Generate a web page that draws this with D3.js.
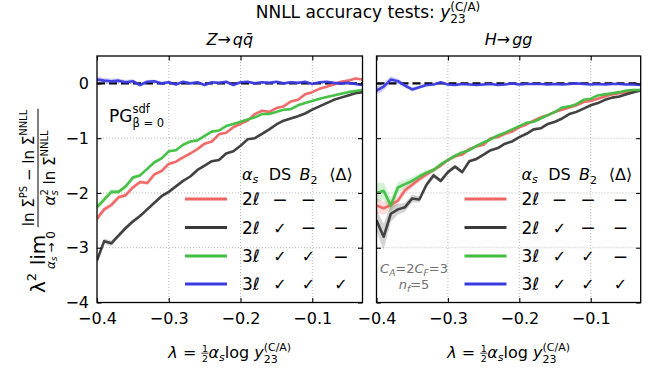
<!DOCTYPE html>
<html><head><meta charset="utf-8">
<script src="https://cdn.jsdelivr.net/npm/d3@7"></script>
<style>body{margin:0;background:#fff}svg{display:block}text{font-family:"DejaVu Sans",sans-serif;white-space:pre;}</style>
</head><body><svg id="c" width="651" height="372" xml:space="preserve"></svg>
<script>
// ---------- data ----------
const lambda = [-0.40,-0.39,-0.38,-0.37,-0.36,-0.35,-0.34,-0.33,-0.32,-0.31,-0.30,-0.29,-0.28,-0.27,-0.26,-0.25,-0.24,-0.23,-0.22,-0.21,-0.20,-0.19,-0.18,-0.17,-0.16,-0.15,-0.14,-0.13,-0.12,-0.11,-0.10,-0.09,-0.08,-0.07,-0.06,-0.05,-0.04,-0.03];
// Z -> q qbar
const zRed   = [-2.47,-2.30,-2.22,-2.08,-2.04,-1.90,-1.80,-1.82,-1.66,-1.60,-1.47,-1.43,-1.35,-1.28,-1.20,-1.10,-1.06,-0.93,-0.90,-0.80,-0.74,-0.68,-0.56,-0.50,-0.52,-0.45,-0.42,-0.33,-0.30,-0.20,-0.16,-0.10,-0.06,-0.02,0.03,0.05,0.09,0.07];
const zBlack = [-3.23,-2.88,-2.92,-2.78,-2.64,-2.52,-2.42,-2.30,-2.18,-2.06,-1.98,-1.88,-1.78,-1.70,-1.58,-1.50,-1.42,-1.40,-1.28,-1.24,-1.14,-1.02,-1.00,-0.92,-0.84,-0.75,-0.68,-0.64,-0.60,-0.55,-0.48,-0.42,-0.36,-0.30,-0.26,-0.22,-0.18,-0.16];
const zGreen = [-2.26,-2.12,-1.98,-1.98,-1.88,-1.72,-1.68,-1.56,-1.44,-1.37,-1.24,-1.22,-1.12,-1.06,-1.04,-0.96,-0.88,-0.86,-0.78,-0.74,-0.70,-0.66,-0.62,-0.56,-0.56,-0.52,-0.48,-0.47,-0.40,-0.36,-0.32,-0.28,-0.25,-0.22,-0.19,-0.16,-0.14,-0.12];
const zBlue  = [0.07,0.05,0.04,0.05,0.02,0.04,-0.03,0.03,0.04,0.00,0.02,-0.02,0.03,0.00,0.02,-0.03,0.02,0.01,0.03,-0.03,0.02,0.03,0.00,0.02,0.01,0.03,0.00,0.02,0.01,0.03,-0.01,0.02,0.03,0.01,0.00,0.01,-0.01,-0.03];
const zErr   = [0.06,0.05,0.05,0.04,0.04,0.04,0.03,0.03,0.03,0.03,0.03,0.02,0.02,0.02,0.02,0.02,0.02,0.02,0.02,0.02,0.02,0.02,0.02,0.02,0.02,0.02,0.02,0.02,0.02,0.02,0.02,0.02,0.02,0.02,0.02,0.02,0.02,0.02];
// H -> g g
const hRed   = [-2.23,-2.28,-2.22,-2.14,-1.95,-1.85,-1.75,-1.66,-1.58,-1.50,-1.40,-1.33,-1.30,-1.20,-1.15,-1.12,-1.00,-0.98,-0.92,-0.88,-0.80,-0.75,-0.68,-0.62,-0.58,-0.52,-0.48,-0.44,-0.40,-0.34,-0.32,-0.28,-0.24,-0.20,-0.18,-0.16,-0.13,-0.12];
const hBlack = [-2.50,-2.80,-2.38,-2.30,-2.26,-2.10,-2.12,-1.85,-1.68,-1.78,-1.62,-1.52,-1.62,-1.42,-1.38,-1.30,-1.22,-1.18,-1.10,-1.06,-0.98,-0.92,-0.84,-0.82,-0.74,-0.70,-0.64,-0.56,-0.52,-0.46,-0.40,-0.36,-0.30,-0.26,-0.24,-0.20,-0.16,-0.13];
const hGreen = [-2.00,-1.96,-2.23,-1.90,-1.84,-1.78,-1.70,-1.63,-1.58,-1.48,-1.40,-1.32,-1.26,-1.22,-1.14,-1.08,-1.02,-0.95,-0.90,-0.84,-0.78,-0.72,-0.70,-0.64,-0.58,-0.52,-0.44,-0.42,-0.38,-0.30,-0.28,-0.22,-0.20,-0.18,-0.16,-0.13,-0.12,-0.12];
const hBlue  = [-0.13,-0.06,0.07,0.04,-0.04,-0.11,-0.07,-0.03,-0.02,0.02,-0.02,-0.03,-0.01,-0.02,-0.03,-0.02,-0.01,-0.03,-0.02,0.00,-0.02,-0.01,-0.01,-0.01,-0.02,-0.01,-0.02,-0.01,0.00,-0.01,-0.02,-0.01,-0.02,-0.01,-0.01,-0.02,-0.02,-0.03];
const hErrRed   = [0.14,0.12,0.10,0.08,0.07,0.06,0.05,0.05,0.04,0.04,0.03,0.03,0.03,0.03,0.02,0.02,0.02,0.02,0.02,0.02,0.02,0.02,0.02,0.02,0.02,0.02,0.02,0.02,0.02,0.02,0.02,0.02,0.02,0.02,0.02,0.02,0.02,0.02];
const hErrBlack = [0.20,0.24,0.15,0.10,0.08,0.07,0.06,0.05,0.05,0.04,0.04,0.03,0.03,0.03,0.03,0.02,0.02,0.02,0.02,0.02,0.02,0.02,0.02,0.02,0.02,0.02,0.02,0.02,0.02,0.02,0.02,0.02,0.02,0.02,0.02,0.02,0.02,0.02];
const hErrGreen = [0.18,0.15,0.14,0.10,0.08,0.07,0.06,0.05,0.04,0.04,0.03,0.03,0.03,0.03,0.02,0.02,0.02,0.02,0.02,0.02,0.02,0.02,0.02,0.02,0.02,0.02,0.02,0.02,0.02,0.02,0.02,0.02,0.02,0.02,0.02,0.02,0.02,0.02];
const hErrBlue  = [0.08,0.07,0.06,0.05,0.04,0.04,0.03,0.03,0.02,0.02,0.02,0.02,0.02,0.02,0.02,0.02,0.02,0.02,0.02,0.02,0.02,0.02,0.02,0.02,0.02,0.02,0.02,0.02,0.02,0.02,0.02,0.02,0.02,0.02,0.02,0.02,0.02,0.02];

const xTicks = [-0.4,-0.3,-0.2,-0.1];
const xTickLabels = ["−0.4","−0.3","−0.2","−0.1"];
const yTicks = [0,-1,-2,-3,-4];
const yTickLabels = ["0","−1","−2","−3","−4"];
const legendAs  = ["2ℓ","2ℓ","3ℓ","3ℓ"];
const legendDS  = ["—","✓","✓","✓"];
const legendB2  = ["—","—","✓","✓"];
const legendDel = ["—","—","—","✓"];
const colors = ["#f06464","#3a3a3a","#40be40","#3a3ae2"];

// ---------- layout helper ----------
function layout(g, parts){
  let x = 0;
  parts.forEach(p=>{
    if (p.gap){ x += p.gap; return; }
    if (p.frac){
      const ng=g.append("g"), dg=g.append("g");
      const nw=layout(ng,p.frac[0]), dw=layout(dg,p.frac[1]);
      const w=Math.max(nw,dw)+2*(p.pad||1);
      ng.attr("transform",`translate(${x+(w-nw)/2},${p.numY})`);
      dg.attr("transform",`translate(${x+(w-dw)/2},${p.denY})`);
      g.append("line").attr("x1",x).attr("x2",x+w).attr("y1",p.barY).attr("y2",p.barY)
        .attr("stroke",p.fill||"#000").attr("stroke-width",p.bw||0.9);
      x+=w; return;
    }
    if (p.under){
      const ug=g.append("g"), bg=g.append("g");
      const uw=layout(ug,p.under), bw=layout(bg,p.below);
      const w=Math.max(uw,bw);
      ug.attr("transform",`translate(${x+(w-uw)/2},0)`);
      bg.attr("transform",`translate(${x+(w-bw)/2},${p.belowY})`);
      x+=w; return;
    }
    if (p.subsup){
      let w=0;
      p.subsup.forEach(q=>{
        const t=g.append("text").attr("x",x).attr("y",q.dy).attr("font-size",q.s).text(q.t);
        if(q.it) t.attr("font-style","italic");
        if(p.fill) t.attr("fill",p.fill);
        w=Math.max(w,t.node().getComputedTextLength());
      });
      x+=w; return;
    }
    const t=g.append("text").attr("x",x).attr("y",p.dy||0).attr("font-size",p.s).text(p.t);
    if(p.it) t.attr("font-style","italic");
    if(p.fill) t.attr("fill",p.fill);
    x+=t.node().getComputedTextLength();
  });
  return x;
}
function mathText(parent, parts, x, y, anchor){
  const g=parent.append("g");
  const inner=g.append("g");
  const w=layout(inner,parts);
  const off = anchor==="middle" ? -w/2 : anchor==="end" ? -w : 0;
  g.attr("transform",`translate(${x+off},${y})`);
  return g;
}

// ---------- chart ----------
const svg=d3.select("#c");
const Y0=56, Y1=302.5;
const panels=[
  {x0:97, x1:362.5, series:[zRed,zBlack,zGreen,zBlue], errs:[zErr,zErr,zErr,zErr], yLabels:true},
  {x0:376.5, x1:640.7, series:[hRed,hBlack,hGreen,hBlue], errs:[hErrRed,hErrBlack,hErrGreen,hErrBlue], yLabels:false}
];

// title
mathText(svg,[{t:"NNLL accuracy tests: ",s:17},{t:"y",s:17,it:true},
  {subsup:[{t:"23",s:12,dy:5},{t:"(C/A)",s:12,dy:-7.5}]}],368,18,"middle");

panels.forEach((P,pi)=>{
  const x=d3.scaleLinear().domain([-0.4,-0.03]).range([P.x0,P.x1]);
  const y=d3.scaleLinear().domain([-4,0.5]).range([Y1,Y0]);
  const g=svg.append("g");
  const cid="clip"+pi;
  svg.append("defs").append("clipPath").attr("id",cid).append("rect")
    .attr("x",P.x0).attr("y",Y0).attr("width",P.x1-P.x0).attr("height",Y1-Y0);
  // grid
  g.append("g").selectAll("line").data(xTicks.slice(1)).join("line")
    .attr("x1",d=>x(d)).attr("x2",d=>x(d)).attr("y1",Y0).attr("y2",Y1)
    .attr("stroke","#b5b5b5").attr("stroke-width",1).attr("stroke-dasharray","1,2");
  g.append("g").selectAll("line").data(yTicks.filter(d=>d!==-4)).join("line")
    .attr("x1",P.x0).attr("x2",P.x1).attr("y1",d=>y(d)).attr("y2",d=>y(d))
    .attr("stroke","#b5b5b5").attr("stroke-width",1).attr("stroke-dasharray","1,2");
  const plot=g.append("g").attr("clip-path",`url(#${cid})`);
  // zero reference
  plot.append("line").attr("x1",P.x0).attr("x2",P.x1).attr("y1",y(0)).attr("y2",y(0))
    .attr("stroke","#000").attr("stroke-width",2.3).attr("stroke-dasharray","8,4");
  // bands
  P.series.forEach((s,i)=>{
    const e=P.errs[i];
    const area=d3.area().x((d,k)=>x(lambda[k])).y0((d,k)=>y(s[k]-e[k])).y1((d,k)=>y(s[k]+e[k]));
    plot.append("path").attr("d",area(s)).attr("fill",colors[i]).attr("opacity",0.22);
  });
  // lines
  P.series.forEach((s,i)=>{
    const line=d3.line().x((d,k)=>x(lambda[k])).y(d=>y(d));
    plot.append("path").attr("d",line(s)).attr("fill","none").attr("stroke",colors[i])
      .attr("stroke-width",2.6).attr("stroke-linejoin","round").attr("opacity",0.95);
  });
  // axes
  const ab=g.append("g").attr("transform",`translate(0,${Y1})`)
    .call(d3.axisBottom(x).tickValues(xTicks).tickSize(-4.5).tickPadding(10)
      .tickFormat((d,i)=>xTickLabels[i]));
  const at=g.append("g").attr("transform",`translate(0,${Y0})`)
    .call(d3.axisTop(x).tickValues(xTicks).tickSize(-4.5).tickFormat(""));
  const al=g.append("g").attr("transform",`translate(${P.x0},0)`)
    .call(d3.axisLeft(y).tickValues(yTicks).tickSize(-4.5).tickPadding(8)
      .tickFormat((d,i)=>P.yLabels?yTickLabels[i]:""));
  const ar=g.append("g").attr("transform",`translate(${P.x1},0)`)
    .call(d3.axisRight(y).tickValues(yTicks).tickSize(-4.5).tickFormat(""));
  [ab,at,al,ar].forEach(a=>{
    a.select(".domain").remove();
    a.selectAll("line").attr("stroke","#000").attr("stroke-width",1.1);
    a.selectAll("text").attr("font-size",16).attr("font-family","DejaVu Sans").attr("fill","#000");
  });
  g.append("rect").attr("x",P.x0).attr("y",Y0).attr("width",P.x1-P.x0).attr("height",Y1-Y0)
    .attr("fill","none").attr("stroke","#000").attr("stroke-width",1.3);

  // panel title
  const cx=(P.x0+P.x1)/2;
  if(pi===0){
    mathText(svg,[{t:"Z",s:16,it:true},{t:"→",s:16},{gap:2},{t:"q",s:16,it:true},{t:"q̄",s:16,it:true}],cx,45,"middle");
  } else {
    mathText(svg,[{t:"H",s:16,it:true},{t:"→",s:16},{gap:2},{t:"gg",s:16,it:true}],cx,45,"middle");
  }
  // x label
  mathText(svg,[{t:"λ",s:16,it:true},{t:" = ",s:16},
    {frac:[[{t:"1",s:9.5}],[{t:"2",s:9.5}]],numY:-6.5,denY:4,barY:-4.8,pad:0.5,bw:0.8},
    {t:"α",s:16,it:true},{t:"s",s:11,it:true,dy:3},{t:"log ",s:16},{t:"y",s:16,it:true},
    {subsup:[{t:"23",s:11,dy:5},{t:"(C/A)",s:11,dy:-7}]}],cx,358,"middle");

  // legend table
  const L=P.x0;
  const hdrY=180;
  mathText(svg,[{t:"α",s:16,it:true},{t:"s",s:11,it:true,dy:3}],L+145,hdrY,"start");
  svg.append("text").attr("x",L+183).attr("y",hdrY).attr("text-anchor","middle").attr("font-size",16).text("DS");
  mathText(svg,[{t:"B",s:16,it:true},{t:"2",s:11,dy:4}],L+211.5,hdrY,"middle");
  svg.append("text").attr("x",L+244).attr("y",hdrY).attr("text-anchor","middle").attr("font-size",16).text("⟨Δ⟩");
  const rowY=[199,227.5,256,284];
  rowY.forEach((ry,i)=>{
    svg.append("line").attr("x1",L+88).attr("x2",L+130).attr("y1",ry).attr("y2",ry)
      .attr("stroke",colors[i]).attr("stroke-width",3);
    svg.append("text").attr("x",L+145).attr("y",ry+6).attr("font-size",17).text(legendAs[i]);
    [[legendDS,183],[legendB2,211.5],[legendDel,244]].forEach(([arr,ox])=>{
      const isDash = arr[i]==="—";
      svg.append("text").attr("x",L+ox).attr("y",isDash?ry+4.5:ry+6).attr("text-anchor","middle")
        .attr("font-size",isDash?13:16).attr("font-weight",isDash?"bold":null).text(arr[i]);
    });
  });
});

// PG label
mathText(svg,[{t:"PG",s:17},{subsup:[{t:"sdf",s:11.5,dy:-9},{t:"β = 0",s:11.5,dy:5}]}],109,122,"start");
// right-panel annotation
mathText(svg,[{t:"C",s:13,it:true,fill:"#707070"},{t:"A",s:9,it:true,dy:3,fill:"#707070"},{t:"=2",s:13,fill:"#707070"},
  {t:"C",s:13,it:true,fill:"#707070"},{t:"F",s:9,it:true,dy:3,fill:"#707070"},{t:"=3",s:13,fill:"#707070"}],414,273,"middle");
mathText(svg,[{t:"n",s:13,it:true,fill:"#707070"},{t:"f",s:9,it:true,dy:3,fill:"#707070"},{t:"=5",s:13,fill:"#707070"}],414,289,"middle");

// y label (rotated)
const yl=svg.append("g").attr("transform","translate(45,293) rotate(-90)");
const ylg=yl.append("g");
layout(ylg,[{t:"λ",s:20},{t:"2",s:13,dy:-9},{gap:4},
  {under:[{t:"lim",s:20}],below:[{t:"α",s:12,it:true},{t:"s",s:8.5,it:true,dy:2},{t:" → 0",s:12}],belowY:10},
  {gap:4},
  {frac:[[{t:"ln Σ",s:15},{t:"PS",s:10,dy:-7},{t:" − ln Σ",s:15},{t:"NNLL",s:10,dy:-7}],
         [{t:"α",s:15,it:true},{subsup:[{t:"2",s:10,dy:-7},{t:"s",s:10,it:true,dy:3}]},{t:" ln Σ",s:15},{t:"NNLL",s:10,dy:-7}]],
   numY:-11,denY:10,barY:-7,pad:1,bw:1}]);
</script>
</body></html>
